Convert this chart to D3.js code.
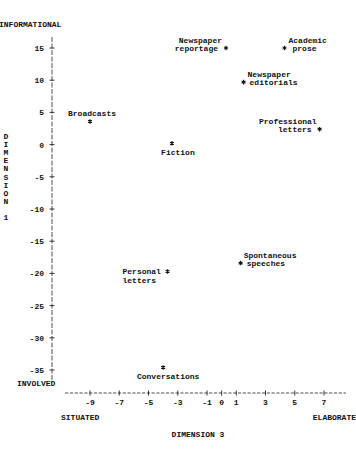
<!DOCTYPE html>
<html lang="en">
  <head>
    <meta charset="UTF-8">
    <title>Dimension 1 vs Dimension 3</title>
    <style>
      body { margin: 0; background: #fff; }
      text { font-family: "Liberation Mono", "DejaVu Sans Mono", monospace; font-size: 8px; font-weight: bold; fill: #111; }
    </style>
  </head>
  <body>
    <div id="data_viz_area"></div>
    <script src="https://d3js.org/d3.v7.js"></script>
    <script>
        // genres and their scores
        var genres = ["Newspaper reportage", "Academic prose", "Newspaper editorials", "Professional letters",
                      "Broadcasts", "Fiction", "Personal letters", "Spontaneous speeches", "Conversations"];
        var dim3 = [0.3, 4.3, 1.5, 6.7, -9.0, -3.4, -3.7, 1.3, -4.0];
        var dim1 = [15.0, 15.0, 9.7, 2.4, 3.6, 0.2, -19.7, -18.4, -34.6];
        var labelLines = [["Newspaper", "reportage"], ["Academic", "prose"], ["Newspaper", "editorials"],
                          ["Professional", "letters"], ["Broadcasts"], ["Fiction"], ["Personal", "letters"],
                          ["Spontaneous", "speeches"], ["Conversations"]];

        var xTicks = [-9, -7, -5, -3, -1, 0, 1, 3, 5, 7];
        var yTicks = [15, 10, 5, 0, -5, -10, -15, -20, -25, -30, -35];

        // where each label sits around its star: [dx, dy, anchor] per line
        var labelPos = [
          [[-4, -8, "end"], [-8, 0, "end"]],
          [[4, -8, "start"], [8, 0, "start"]],
          [[4, -8, "start"], [6, 0, "start"]],
          [[-3, -8, "end"], [-8, 0, "end"]],
          [[2, -8, "middle"]],
          [[6, 9, "middle"]],
          [[-45, 0, "start"], [-45, 9, "start"]],
          [[3, -8, "start"], [6, 0, "start"]],
          [[5, 9, "middle"]]
        ];

        var svg = d3.select("#data_viz_area")
          .append("svg")
            .attr("width", 356)
            .attr("height", 457);

        var x = d3.scaleLinear().domain([-9, 7]).range([90, 324]);
        var y = d3.scaleLinear().domain([15, -35]).range([48, 370]);

        // Y axis, typewriter style
        var yAxis = svg.append("g").attr("transform", "translate(52,0)");
        yAxis.append("line")
            .attr("y1", y(16.7)).attr("y2", y(-36.7))
            .attr("stroke", "#222").attr("stroke-width", 0.8)
            .attr("stroke-dasharray", "5,1.5");
        var yt = yAxis.selectAll(".yt").data(yTicks).enter().append("g")
            .attr("transform", function(d){ return "translate(0," + y(d) + ")"; });
        yt.append("line").attr("x1", -2.5).attr("x2", 2.5).attr("stroke", "#222").attr("stroke-width", 0.9);
        yt.append("text").attr("x", -8).attr("dy", 3).attr("text-anchor", "end").text(function(d){ return d; });

        // X axis
        var xAxis = svg.append("g").attr("transform", "translate(0,393)");
        xAxis.append("line")
            .attr("x1", x(-10.7)).attr("x2", x(8.5))
            .attr("stroke", "#222").attr("stroke-width", 0.8)
            .attr("stroke-dasharray", "3.2,1.6");
        var xt = xAxis.selectAll(".xt").data(xTicks).enter().append("g")
            .attr("transform", function(d){ return "translate(" + x(d) + ",0)"; });
        xt.append("line").attr("y1", -2.5).attr("y2", 2.5).attr("stroke", "#222").attr("stroke-width", 0.9);
        xt.append("text").attr("y", 12).attr("text-anchor", "middle").text(function(d){ return d; });

        // axis captions
        svg.append("text").attr("x", -1).attr("y", 27).text("INFORMATIONAL");
        svg.append("text").attr("x", 17).attr("y", 386).text("INVOLVED");
        svg.append("text").attr("x", 61).attr("y", 420).text("SITUATED");
        svg.append("text").attr("x", 356).attr("y", 420).attr("text-anchor", "end").text("ELABORATE");
        svg.append("text").attr("x", 198).attr("y", 437).attr("text-anchor", "middle").text("DIMENSION 3");

        var vert = "DIMENSION 1".split("");
        svg.selectAll(".vl").data(vert).enter().append("text")
            .attr("x", 6).attr("y", function(d, i){ return 139 + i * 8.1; })
            .attr("text-anchor", "middle")
            .text(function(d){ return d; });

        // points
        var pts = genres.map(function(g, i){ return {name: g, x: dim3[i], y: dim1[i], lines: labelLines[i], pos: labelPos[i]}; });
        var star = d3.symbol().type(d3.symbolAsterisk).size(14);

        var pg = svg.selectAll(".pt").data(pts).enter().append("g")
            .attr("transform", function(d){ return "translate(" + x(d.x) + "," + y(d.y) + ")"; });
        pg.append("path").attr("d", star).attr("stroke", "#111").attr("stroke-width", 1.1).attr("fill", "none");
        pg.each(function(d){
          var g = d3.select(this);
          d.lines.forEach(function(l, j){
            var p = d.pos[j];
            g.append("text").attr("x", p[0]).attr("y", p[1] + 3).attr("text-anchor", p[2]).text(l);
          });
        });
    </script>
  </body>
</html>
